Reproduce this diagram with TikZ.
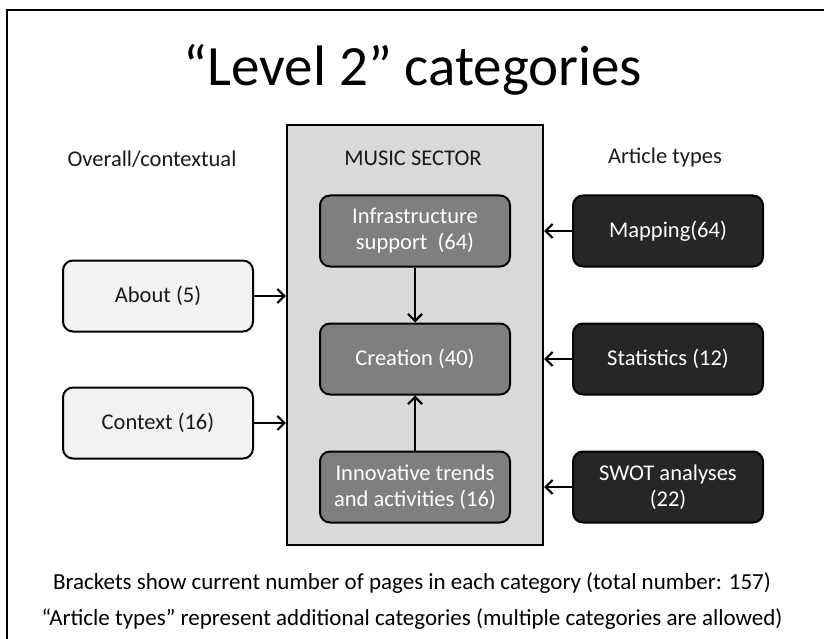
\documentclass[tikz,border=0pt]{standalone}
\usepackage{fontspec}
\setmainfont{Carlito}
\usetikzlibrary{positioning,arrows.meta}

\definecolor{boxlight}{HTML}{F2F2F2}
\definecolor{boxmid}{HTML}{7F7F7F}
\definecolor{boxdark}{HTML}{262626}
\definecolor{sectorfill}{HTML}{D9D9D9}
\definecolor{inkgray}{HTML}{1A1A1A}

\tikzset{
  catbox/.style={draw=black, line width=2pt, rounded corners=10pt,
                 minimum width=190pt, minimum height=71pt, align=center,
                 font=\fontsize{22.5}{26}\selectfont},
  ctxbox/.style={catbox, fill=boxlight, text=inkgray},
  musicbox/.style={catbox, fill=boxmid, text=white},
  typebox/.style={catbox, fill=boxdark, text=white},
  heading/.style={font=\fontsize{22.5}{26}\selectfont, text=inkgray},
  note/.style={font=\fontsize{23}{26}\selectfont, text=black},
  feed/.style={-{Straight Barb[length=7pt,width=14pt]}, line width=2.2pt}
}

\begin{document}
\begin{tikzpicture}[x=1pt,y=-1pt]
    \useasboundingbox (0,0) rectangle (824,639);
    \begin{scope}
      \clip (0,0) rectangle (824,639);
      \draw[line width=1.5pt] (7,10) rectangle (840,660);
    \end{scope}
    % title
    \node[font=\fontsize{57}{62}\selectfont] (title) at (413,70) {``Level 2'' categories};
    % the sector box
    \node[draw, line width=2.2pt, fill=sectorfill, minimum width=256pt,
          minimum height=420pt] (sector) at (415,335) {};
    \node[heading] (sectorlbl) at (413,158) {MUSIC SECTOR};
    \node[heading] (ctxlbl) at (152,159) {Overall/contextual};
    \node[heading] (typelbl) at (665,158) {Article types};
    % overall/contextual
    \node[ctxbox] (about) at (158,296) {About (5)};
    \node[ctxbox] (context) at (158,423) {Context (16)};
    % music sector
    \node[musicbox] (infra) at (415,231) {Infrastructure\\support~ (64)};
    \node[musicbox] (creation) at (415,359) {Creation (40)};
    \node[musicbox] (innov) at (415,487) {Innovative trends\\and activities (16)};
    % article types
    \node[typebox] (mapping) at (668,231) {Mapping(64)};
    \node[typebox] (stats) at (668,359) {Statistics (12)};
    \node[typebox] (swot) at (668,487) {SWOT analyses\\(22)};
    % arrows
    \draw[feed] (about.east) -- (about.east -| sector.west);
    \draw[feed] (context.east) -- (context.east -| sector.west);
    \draw[feed] (infra) -- (creation);
    \draw[feed] (innov) -- (creation);
    \draw[feed] (mapping.west) -- (mapping.west -| sector.east);
    \draw[feed] (stats.west) -- (stats.west -| sector.east);
    \draw[feed] (swot.west) -- (swot.west -| sector.east);
    % notes
    \node[note] (note1) at (412,583) {Brackets show current number of pages in each category (total number: 157)};
    \node[note] (note2) at (412,619) {``Article types'' represent additional categories (multiple categories are allowed)};
\end{tikzpicture}
\end{document}
